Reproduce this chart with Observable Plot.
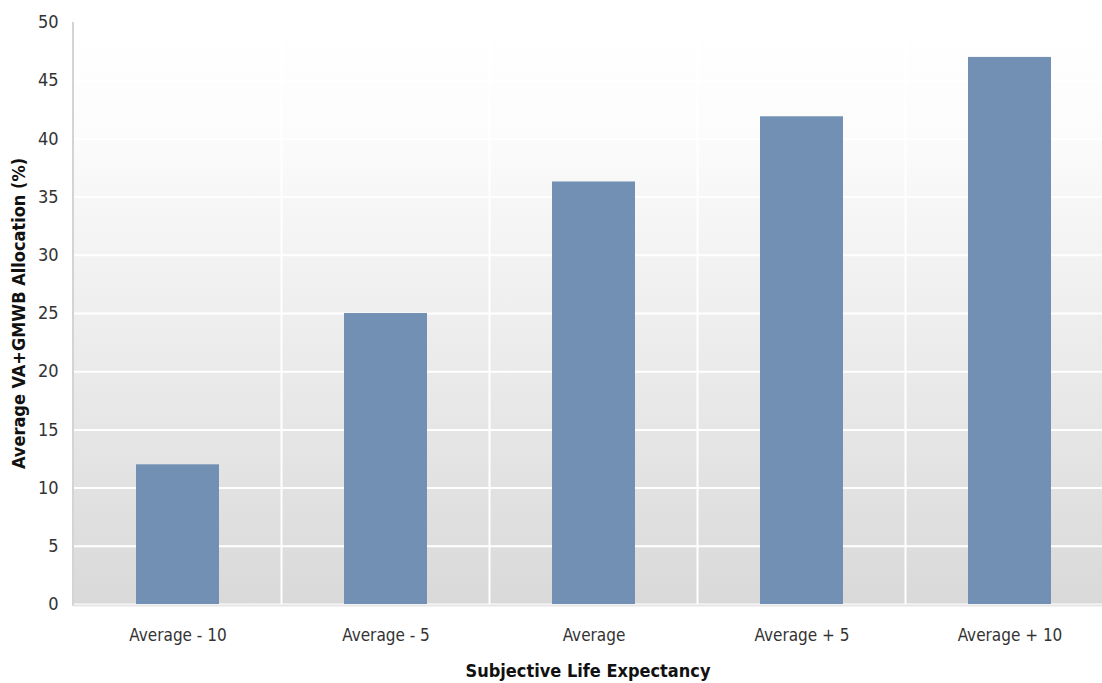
<!DOCTYPE html>
<html>
<head>
<meta charset="utf-8">
<script src="https://cdn.jsdelivr.net/npm/d3@7"></script>
<script src="https://cdn.jsdelivr.net/npm/@observablehq/plot@0.6"></script>
<style>
  html, body { margin: 0; padding: 0; background: #fff; overflow: hidden; }
  #chart svg { display: block; }
</style>
</head>
<body>
<div id="chart"></div>
<script>
const categories = ["Average - 10", "Average - 5", "Average", "Average + 5", "Average + 10"];
const allocation = [12, 25, 36.3, 41.9, 47];
const yTicks = [0, 5, 10, 15, 20, 25, 30, 35, 40, 45, 50];
const xTitle = "Subjective Life Expectancy";
const yTitle = "Average VA+GMWB Allocation (%)";

const data = categories.map((c, i) => ({category: c, value: allocation[i]}));
const FONT = "'Liberation Sans Narrow', 'DejaVu Sans Condensed', 'Roboto', sans-serif";

const gradientDefs = () => {
  const defs = d3.create("svg:defs");
  const g = defs.append("linearGradient").attr("id", "bgGrad")
    .attr("x1", 0).attr("y1", 0).attr("x2", 0).attr("y2", 1);
  g.append("stop").attr("offset", "0%").attr("stop-color", "#ffffff");
  g.append("stop").attr("offset", "18%").attr("stop-color", "#fcfcfc");
  g.append("stop").attr("offset", "100%").attr("stop-color", "#d9d9d9");
  return defs.node();
};

const separators = (index, scales, values, dimensions) => {
  const x = scales.x;
  const bw = typeof x.bandwidth === "function" ? x.bandwidth() : x.bandwidth;
  const st = typeof x.step === "function" ? x.step() : bw / 0.4;
  const g = d3.create("svg:g");
  const top = dimensions.marginTop;
  const bottom = dimensions.height - dimensions.marginBottom;
  for (let i = 1; i < categories.length; i++) {
    const px = x(categories[i]) + bw / 2 - st / 2;
    g.append("line")
      .attr("x1", px).attr("x2", px)
      .attr("y1", top).attr("y2", bottom)
      .attr("stroke", "#ffffff").attr("stroke-width", 2);
  }
  // left frame line
  g.append("line")
    .attr("x1", dimensions.marginLeft).attr("x2", dimensions.marginLeft)
    .attr("y1", top).attr("y2", bottom + 2)
    .attr("stroke", "#d4d4d4").attr("stroke-width", 2);
  return g.node();
};

const chart = Plot.plot({
  width: 1102,
  height: 683,
  marginTop: 22,
  marginBottom: 79,
  marginLeft: 73,
  marginRight: 0,
  style: {fontFamily: FONT, fontSize: "18px", color: "#333", background: "transparent"},
  x: {domain: categories, range: [73, 1114], paddingInner: 0.6, paddingOuter: 0.3, label: null},
  y: {domain: [0, 50], label: null},
  marks: [
    gradientDefs,
    Plot.frame({fill: "url(#bgGrad)", stroke: null}),
    Plot.gridY(yTicks, {stroke: "#ffffff", strokeOpacity: 1, strokeWidth: 2}),
    separators,
    Plot.ruleY([0], {stroke: "#e6e6e6", strokeWidth: 2, dy: 1}),
    Plot.barY(data, {x: "category", y: "value", fill: "#7190b3"}),
    Plot.axisY(yTicks, {tickSize: 0, tickPadding: 15, fontSize: 18, fill: "#333", label: null}),
    Plot.axisX({tickSize: 0, tickPadding: 24, fontSize: 17, fill: "#333", label: null}),
    Plot.text([xTitle], {frameAnchor: "bottom", dy: 67, lineAnchor: "middle", textAnchor: "middle", fontWeight: "bold", fontSize: 18, fill: "#111"}),
    Plot.text([yTitle], {frameAnchor: "left", rotate: -90, dx: -54, textAnchor: "middle", lineAnchor: "middle", fontWeight: "bold", fontSize: 18, fill: "#111"})
  ]
});
document.getElementById("chart").appendChild(chart);
</script>
</body>
</html>
